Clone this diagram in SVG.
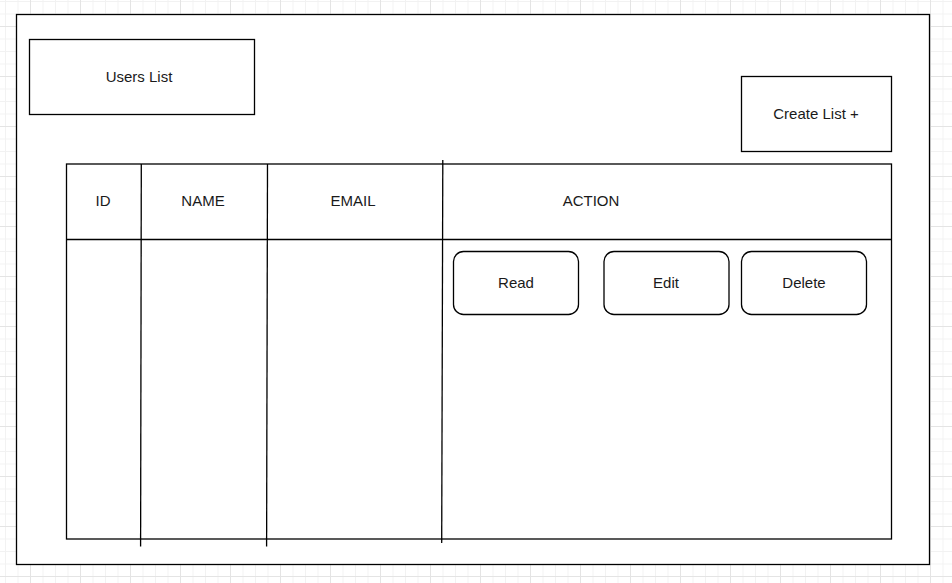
<svg xmlns="http://www.w3.org/2000/svg" width="952" height="583" viewBox="0 0 952 583">
  <defs>
    <pattern id="minor" patternUnits="userSpaceOnUse" x="30" y="26" width="12.5" height="12.5">
      <path d="M0 0.5H12.5M0.5 0V12.5" fill="none" stroke="#f2f2f2" stroke-width="1"/>
    </pattern>
    <pattern id="major" patternUnits="userSpaceOnUse" x="30" y="26" width="50" height="50">
      <path d="M0 0.5H50M0.5 0V50" fill="none" stroke="#e4e4e4" stroke-width="1"/>
    </pattern>
  </defs>
  <style>
    .box { fill: #ffffff; stroke: #000000; stroke-width: 1.3; }
    .ln { fill: none; stroke: #000000; stroke-width: 1.3; }
    .t { font-family: "Liberation Sans", Arial, sans-serif; font-size: 15px; fill: #1a1a1a; text-anchor: middle; }
  </style>
  <rect x="0" y="0" width="952" height="583" fill="#ffffff"/>
  <rect x="0" y="0" width="952" height="583" fill="url(#minor)"/>
  <rect x="0" y="0" width="952" height="583" fill="url(#major)"/>

  <g id="page">
    <rect class="box" x="16.5" y="14.5" width="913" height="550"/>
  </g>

  <g id="users-list">
    <rect class="box" x="29.5" y="39.5" width="225" height="75"/>
    <text class="t" x="139" y="82">Users List</text>
  </g>

  <g id="create-list">
    <rect class="box" x="741.5" y="76.5" width="150" height="75"/>
    <text class="t" x="816" y="119">Create List +</text>
  </g>

  <g id="table">
    <rect class="box" x="66.5" y="164" width="825" height="375"/>
    <text class="t" x="103" y="206">ID</text>
    <text class="t" x="203" y="206">NAME</text>
    <text class="t" x="353" y="206">EMAIL</text>
    <text class="t" x="591" y="206">ACTION</text>
  </g>

  <g id="read-button">
    <rect class="box" x="453.5" y="251.5" width="125" height="63" rx="10" ry="10"/>
    <text class="t" x="516" y="288">Read</text>
  </g>
  <g id="edit-button">
    <rect class="box" x="604" y="251.5" width="125" height="63" rx="10" ry="10"/>
    <text class="t" x="666" y="288">Edit</text>
  </g>
  <g id="delete-button">
    <rect class="box" x="741.5" y="251.5" width="125" height="63" rx="10" ry="10"/>
    <text class="t" x="804" y="288">Delete</text>
  </g>

  <g id="connectors">
    <path class="ln" d="M66.5 239.5H891.5"/>
    <path class="ln" d="M141.3 164L140.6 546.5"/>
    <path class="ln" d="M267.5 164L266.6 546.5"/>
    <path class="ln" d="M442.8 160L441.7 543"/>
  </g>
</svg>
